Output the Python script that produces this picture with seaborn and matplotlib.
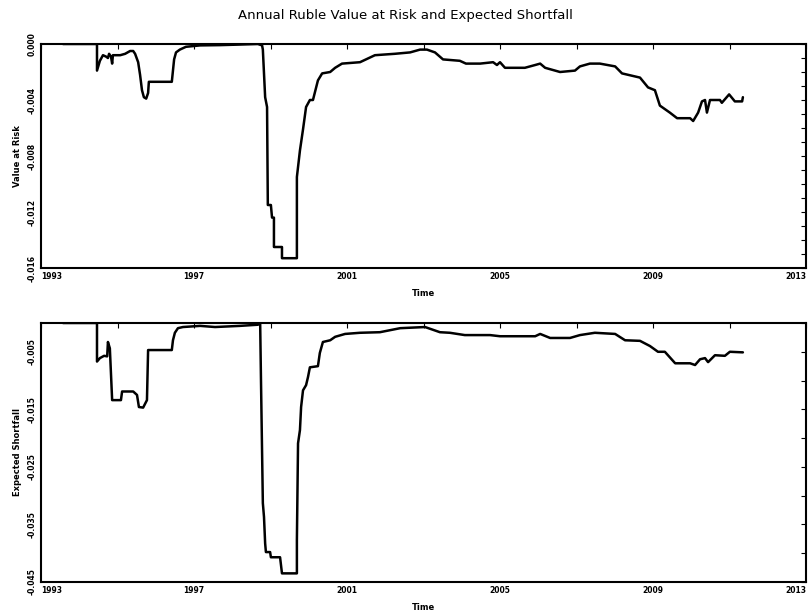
import numpy as np
import pandas as pd
import matplotlib
matplotlib.use("Agg")
import matplotlib.pyplot as plt
import matplotlib.ticker as mticker
import seaborn as sns

# annual ruble VaR (fractional years)
var_years = [1993.575, 1994.464, 1994.464, 1994.54, 1994.62, 1994.70, 1994.75, 1994.78,
             1994.83, 1994.86, 1994.88, 1995.07, 1995.20, 1995.33, 1995.41, 1995.46,
             1995.54, 1995.59, 1995.64, 1995.69, 1995.75, 1995.80, 1995.82, 1996.42,
             1996.48, 1996.53, 1996.63, 1996.79, 1997.16, 1997.68, 1998.20, 1998.67,
             1998.78, 1998.80, 1998.86, 1998.91, 1998.93, 1999.01, 1999.04, 1999.09,
             1999.09, 1999.30, 1999.30, 1999.69, 1999.69, 1999.77, 1999.85, 1999.93,
             2000.03, 2000.11, 2000.24, 2000.35, 2000.56, 2000.69, 2000.87, 2001.34,
             2001.73, 2002.25, 2002.65, 2002.91, 2003.09, 2003.30, 2003.51, 2003.95,
             2004.11, 2004.48, 2004.82, 2004.92, 2005.00, 2005.13, 2005.34, 2005.65,
             2005.92, 2006.05, 2006.18, 2006.57, 2006.96, 2007.09, 2007.35, 2007.61,
             2008.01, 2008.19, 2008.66, 2008.87, 2009.05, 2009.18, 2009.44, 2009.63,
             2009.97, 2010.05, 2010.18, 2010.28, 2010.36, 2010.41, 2010.49, 2010.75,
             2010.80, 2010.99, 2011.14, 2011.33, 2011.35]
var_values = [0.0, 0.0, -0.0019, -0.0012, -0.0008, -0.0009, -0.0010, -0.0007,
              -0.0009, -0.0014, -0.0008, -0.0008, -0.0007, -0.0005, -0.0005, -0.0007,
              -0.0013, -0.0022, -0.0033, -0.0038, -0.0039, -0.0035, -0.0027, -0.0027,
              -0.0011, -0.0006, -0.0004, -0.0002, -0.0001, -0.00008, -0.00004, 0.0,
              -0.0001, -0.0004, -0.0038, -0.0045, -0.0115, -0.0115, -0.0124, -0.0124,
              -0.0145, -0.0145, -0.0153, -0.0153, -0.0095, -0.0076, -0.0061, -0.0045,
              -0.0040, -0.0040, -0.0026, -0.0021, -0.0020, -0.0017, -0.0014, -0.0013,
              -0.0008, -0.0007, -0.0006, -0.0004, -0.0004, -0.0006, -0.0011, -0.0012,
              -0.0014, -0.0014, -0.0013, -0.0015, -0.0013, -0.0017, -0.0017, -0.0017,
              -0.0015, -0.0014, -0.0017, -0.0020, -0.0019, -0.0016, -0.0014, -0.0014,
              -0.0016, -0.0021, -0.0024, -0.0031, -0.0033, -0.0044, -0.0049, -0.0053,
              -0.0053, -0.0055, -0.0049, -0.0041, -0.0040, -0.0049, -0.0040, -0.0040,
              -0.0042, -0.0036, -0.0041, -0.0041, -0.0038]

# expected shortfall
es_years = [1993.575, 1994.464, 1994.464, 1994.54, 1994.65, 1994.73, 1994.75, 1994.80,
            1994.86, 1995.09, 1995.12, 1995.41, 1995.51, 1995.56, 1995.67, 1995.77,
            1995.80, 1996.42, 1996.45, 1996.50, 1996.58, 1996.71, 1997.16, 1997.55,
            1998.20, 1998.67, 1998.73, 1998.75, 1998.80, 1998.83, 1998.86, 1998.88,
            1998.99, 1999.01, 1999.25, 1999.30, 1999.69, 1999.69, 1999.72, 1999.77,
            1999.80, 1999.85, 1999.93, 1999.98, 2000.03, 2000.24, 2000.29, 2000.37,
            2000.56, 2000.69, 2000.95, 2001.34, 2001.86, 2002.39, 2003.04, 2003.43,
            2003.69, 2004.08, 2004.74, 2005.00, 2005.92, 2006.05, 2006.31, 2006.83,
            2007.09, 2007.48, 2008.01, 2008.27, 2008.66, 2008.92, 2009.13, 2009.31,
            2009.58, 2009.97, 2010.10, 2010.23, 2010.36, 2010.44, 2010.62, 2010.88,
            2011.01, 2011.35]
es_values = [0.0, 0.0, -0.0067, -0.0061, -0.0057, -0.0058, -0.0033, -0.0044,
             -0.0134, -0.0134, -0.0119, -0.0119, -0.0125, -0.0146, -0.0147, -0.0134,
             -0.0047, -0.0047, -0.0030, -0.0017, -0.0009, -0.0007, -0.0005, -0.0007,
             -0.0005, -0.0003, -0.0001, -0.0094, -0.0313, -0.0337, -0.0383, -0.0398,
             -0.0398, -0.0407, -0.0407, -0.0435, -0.0435, -0.0377, -0.0209, -0.0186,
             -0.0146, -0.0117, -0.0108, -0.0094, -0.0077, -0.0075, -0.0052, -0.0033,
             -0.0030, -0.0024, -0.0019, -0.0017, -0.0016, -0.0009, -0.0007, -0.0016,
             -0.0017, -0.0021, -0.0021, -0.0023, -0.0023, -0.0019, -0.0026, -0.0026,
             -0.0021, -0.0017, -0.0019, -0.0030, -0.0031, -0.0040, -0.0050, -0.0050,
             -0.0070, -0.0070, -0.0073, -0.0063, -0.0061, -0.0068, -0.0056, -0.0057,
             -0.0050, -0.0051]

year_labels = [1993, 1997, 2001, 2005, 2009, 2013]
year_minor = [1995, 1999, 2003, 2007, 2011]

sns.set_style("white")
plt.rcParams['font.family'] = ['DejaVu Sans']
plt.rcParams['axes.unicode_minus'] = False
plt.rcParams['text.color'] = 'black'
plt.rcParams['axes.labelcolor'] = 'black'
plt.rcParams['xtick.color'] = 'black'
plt.rcParams['ytick.color'] = 'black'

fig = plt.figure(figsize=(8.11, 6.12), dpi=100)
ax1 = fig.add_axes([41 / 811, 1 - 268 / 612, 765 / 811, 224 / 612])
ax2 = fig.add_axes([41 / 811, 1 - 582 / 612, 765 / 811, 259 / 612])

df_var = pd.DataFrame({'Time': var_years, 'Value': var_values})
df_es = pd.DataFrame({'Time': es_years, 'Value': es_values})

sns.lineplot(data=df_var, x='Time', y='Value', ax=ax1, color='black', lw=1.8,
             sort=False, estimator=None)
sns.lineplot(data=df_es, x='Time', y='Value', ax=ax2, color='black', lw=1.8,
             sort=False, estimator=None)


def style_axes(ax, ylim, ymajor, yminor, ylabel):
    ax.set_xlim(1993, 2013)
    ax.set_ylim(*ylim)
    ax.xaxis.set_major_locator(mticker.FixedLocator(year_labels))
    ax.xaxis.set_minor_locator(mticker.FixedLocator(year_minor))
    ax.yaxis.set_major_locator(mticker.FixedLocator(ymajor))
    ax.yaxis.set_minor_locator(mticker.MultipleLocator(yminor))
    ax.yaxis.set_major_formatter(mticker.FormatStrFormatter('%.3f'))
    ax.xaxis.set_major_formatter(mticker.FormatStrFormatter('%d'))
    ax.tick_params(which='both', direction='in', top=True, right=True,
                   length=3.5, width=0.8, pad=3)
    xl = ax.get_xticklabels()
    for lbl in xl:
        lbl.set_fontsize(5.5)
        lbl.set_fontweight('bold')
    xl[0].set_ha('left')
    xl[-1].set_ha('right')
    for lbl in ax.get_yticklabels():
        lbl.set_fontsize(5.5)
        lbl.set_fontweight('bold')
        lbl.set_rotation(90)
        lbl.set_va('center')
    for sp in ax.spines.values():
        sp.set_linewidth(1.5)
        sp.set_color('black')
    ax.set_xlabel('Time', fontsize=6, fontweight='bold', labelpad=6)
    ax.set_ylabel(ylabel, fontsize=6, fontweight='bold', labelpad=4)


style_axes(ax1, (-0.016, 0.0), [0.0, -0.004, -0.008, -0.012, -0.016], 0.001, 'Value at Risk')
style_axes(ax2, (-0.045, 0.0), [-0.005, -0.015, -0.025, -0.035, -0.045], 0.005,
           'Expected Shortfall')

fig.suptitle('Annual Ruble Value at Risk and Expected Shortfall', y=0.985, fontsize=9.5,
             color='black')

plt.savefig('out.png', dpi=100)
plt.close()
